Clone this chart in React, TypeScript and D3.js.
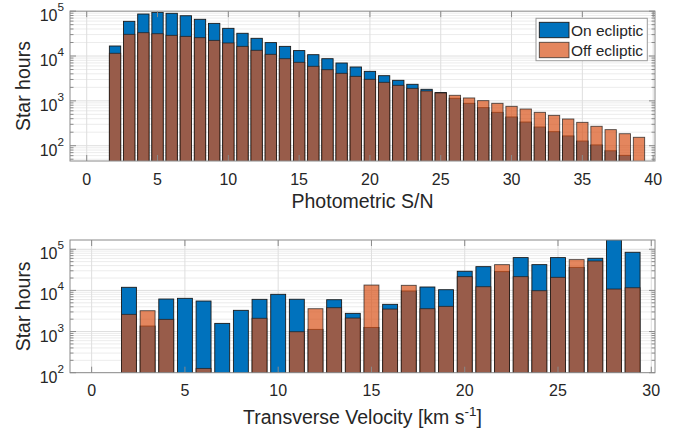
import React from "react";
import * as d3 from "d3";

// Photometric S/N histogram (bin centres and star hours per bin)
const SNR_BINS = [2, 3, 4, 5, 6, 7, 8, 9, 10, 11, 12, 13, 14, 15, 16, 17, 18, 19, 20, 21, 22, 23, 24, 25, 26, 27, 28, 29, 30, 31, 32, 33, 34, 35, 36, 37, 38, 39];
const SNR_ON = [16700, 59300, 86300, 94000, 89500, 79000, 65800, 53400, 41400, 32100, 24800, 19900, 16400, 13200, 10700, 8710, 6980, 5690, 4550, 3640, 2870, 2340, 1810, 1530, 1140, 881, 705, 555, 437, 337, 261, 205, 165, 127, 104, 77, 61, 0];
const SNR_OFF = [11500, 30400, 33100, 31400, 28900, 27400, 25600, 22300, 19500, 16400, 13400, 10900, 8700, 7230, 5890, 4950, 4110, 3520, 3020, 2590, 2220, 1900, 1660, 1500, 1330, 1160, 1010, 881, 755, 658, 555, 475, 394, 332, 271, 228, 185, 154];

// Transverse velocity histogram
const VEL_BINS = [2, 3, 4, 5, 6, 7, 8, 9, 10, 11, 12, 13, 14, 15, 16, 17, 18, 19, 20, 21, 22, 23, 24, 25, 26, 27, 28, 29];
const VEL_ON = [11900, 1360, 6180, 6420, 5520, 1580, 3280, 6070, 8040, 6100, 1130, 5940, 2770, 1260, 4590, 9660, 12100, 10400, 29200, 37800, 28600, 62700, 42300, 62700, 36300, 60400, 170000, 84500];
const VEL_OFF = [2620, 3210, 1980, 0, 127, 0, 0, 2100, 0, 990, 3590, 3800, 2130, 13500, 3520, 13300, 3590, 4100, 21600, 12300, 42300, 21600, 9840, 20800, 56000, 51800, 10800, 11600];

const SNR_TICKS = [0, 5, 10, 15, 20, 25, 30, 35, 40];
const VEL_TICKS = [0, 5, 10, 15, 20, 25, 30];
const DECADE_TICKS = [100, 1000, 10000, 100000];

const SERIES_NAMES = ["On ecliptic", "Off ecliptic"];

const BLUE = "#0072BD";
const ORANGE = "#D95319";
const OFF_ALPHA = 0.7;
const FONT = "'Liberation Sans', Arial, Helvetica, sans-serif";
const TEXT = "#262626";
const AXIS = "#8a8a8a";

type PanelProps = {
  id: string;
  bins: number[];
  on: number[];
  off: number[];
  xDomain: [number, number];
  yDomain: [number, number];
  xTicks: number[];
  left: number;
  right: number;
  top: number;
  bottom: number;
  xLabel: React.ReactNode;
  xLabelY: number;
  legend?: boolean;
};

function Panel(p: PanelProps) {
  const x = d3.scaleLinear().domain(p.xDomain).range([p.left, p.right]);
  const y = d3.scaleLog().domain(p.yDomain).range([p.bottom, p.top]);
  const allTicks = y.ticks();
  const minor = allTicks.filter((v) => Math.abs(Math.log10(v) - Math.round(Math.log10(v))) > 1e-6);
  const major = DECADE_TICKS.filter((v) => v >= p.yDomain[0] * 0.999 && v <= p.yDomain[1] * 1.001);
  const half = 0.4;
  const barBottom = p.bottom + 4;
  const bar = (b: number, v: number) => {
    const x0 = x(b - half);
    const x1 = x(b + half);
    const yt = y(v);
    return { x: x0, width: x1 - x0, y: yt, height: barBottom - yt };
  };
  const cy = (p.top + p.bottom) / 2;
  const cx = (p.left + p.right) / 2;
  const tl = 6;
  const mtl = 3.5;
  return (
    <g>
      <defs>
        <clipPath id={p.id}>
          <rect x={p.left} y={p.top} width={p.right - p.left} height={p.bottom - p.top} />
        </clipPath>
      </defs>
      <rect x={p.left} y={p.top} width={p.right - p.left} height={p.bottom - p.top} fill="#fff" />
      {/* grid */}
      <g clipPath={`url(#${p.id})`}>
        {minor.map((v) => (
          <line key={"mg" + v} x1={p.left} x2={p.right} y1={y(v)} y2={y(v)} stroke="#ececec" strokeWidth={1} />
        ))}
        {major.map((v) => (
          <line key={"Mg" + v} x1={p.left} x2={p.right} y1={y(v)} y2={y(v)} stroke="#dedede" strokeWidth={1} />
        ))}
        {p.xTicks.map((t) => (
          <line key={"xg" + t} x1={x(t)} x2={x(t)} y1={p.top} y2={p.bottom} stroke="#dedede" strokeWidth={1} />
        ))}
        {/* bars: on-ecliptic underneath, translucent off-ecliptic on top */}
        {p.bins.map((b, i) =>
          p.on[i] > 0 ? (
            <rect key={"on" + b} {...bar(b, p.on[i])} fill={BLUE} stroke="#1a1a1a" strokeWidth={0.9} />
          ) : null
        )}
        {p.bins.map((b, i) =>
          p.off[i] > 0 ? (
            <rect key={"off" + b} {...bar(b, p.off[i])} fill={ORANGE} fillOpacity={OFF_ALPHA} stroke="#1a1a1a" strokeOpacity={0.75} strokeWidth={0.9} />
          ) : null
        )}
      </g>
      {/* axes box */}
      <rect x={p.left} y={p.top} width={p.right - p.left} height={p.bottom - p.top} fill="none" stroke={AXIS} strokeWidth={1} />
      {p.xTicks.map((t) => (
        <g key={"xt" + t}>
          <line x1={x(t)} x2={x(t)} y1={p.bottom} y2={p.bottom - tl} stroke={AXIS} />
          <line x1={x(t)} x2={x(t)} y1={p.top} y2={p.top + tl} stroke={AXIS} />
          <text x={x(t)} y={p.bottom + 23.5} textAnchor="middle" fontSize={16} fill={TEXT} fontFamily={FONT}>
            {t}
          </text>
        </g>
      ))}
      {minor.map((v) => (
        <g key={"ym" + v}>
          <line x1={p.left} x2={p.left + mtl} y1={y(v)} y2={y(v)} stroke={AXIS} />
          <line x1={p.right} x2={p.right - mtl} y1={y(v)} y2={y(v)} stroke={AXIS} />
        </g>
      ))}
      {major.map((v) => (
        <g key={"yt" + v}>
          <line x1={p.left} x2={p.left + tl} y1={y(v)} y2={y(v)} stroke={AXIS} />
          <line x1={p.right} x2={p.right - tl} y1={y(v)} y2={y(v)} stroke={AXIS} />
          <text x={p.left - 6} y={y(v) + 10} textAnchor="end" fontSize={16} fill={TEXT} fontFamily={FONT}>
            10
            <tspan dy={-10} fontSize={11.7}>
              {Math.round(Math.log10(v))}
            </tspan>
          </text>
        </g>
      ))}
      <text
        transform={`translate(30,${cy}) rotate(-90)`}
        textAnchor="middle"
        fontSize={19.5}
        fill={TEXT}
        fontFamily={FONT}
      >
        Star hours
      </text>
      <text x={cx} y={p.xLabelY} textAnchor="middle" fontSize={19.5} fill={TEXT} fontFamily={FONT}>
        {p.xLabel}
      </text>
      {p.legend ? (
        <g fontFamily={FONT} fontSize={15.5} fill={TEXT}>
          <rect x={536} y={18.3} width={111.3} height={42.4} fill="#fff" stroke="#9a9a9a" strokeWidth={1} />
          <rect x={539.3} y={22.3} width={29.7} height={15.4} fill={BLUE} stroke="#1a1a1a" strokeWidth={0.9} />
          <rect x={539.3} y={42.3} width={29.7} height={15.4} fill={ORANGE} fillOpacity={OFF_ALPHA} stroke="#1a1a1a" strokeOpacity={0.75} strokeWidth={0.9} />
          <text x={571} y={36}>{SERIES_NAMES[0]}</text>
          <text x={571} y={55.8}>{SERIES_NAMES[1]}</text>
        </g>
      ) : null}
    </g>
  );
}

export default function App() {
  return (
    <svg
      width={687}
      height={437}
      viewBox="0 0 687 437"
      style={{ position: "absolute", left: 0, top: 0, background: "#fff" }}
    >
      <rect x={0} y={0} width={687} height={437} fill="#fff" />
      <Panel
        id="clip-snr"
        bins={SNR_BINS}
        on={SNR_ON}
        off={SNR_OFF}
        xDomain={[-1.18, 40.13]}
        yDomain={[45.6, 100000]}
        xTicks={SNR_TICKS}
        left={70}
        right={655}
        top={11.15}
        bottom={161}
        xLabel="Photometric S/N"
        xLabelY={208}
        legend
      />
      <Panel
        id="clip-vel"
        bins={VEL_BINS}
        on={VEL_ON}
        off={VEL_OFF}
        xDomain={[-1.16, 30.2]}
        yDomain={[100, 168000]}
        xTicks={VEL_TICKS}
        left={70}
        right={655}
        top={240}
        bottom={372.7}
        xLabel={
          <>
            Transverse Velocity [km s
            <tspan dy={-8} fontSize={13.5}>-1</tspan>
            <tspan dy={8}>]</tspan>
          </>
        }
        xLabelY={424}
      />
    </svg>
  );
}
